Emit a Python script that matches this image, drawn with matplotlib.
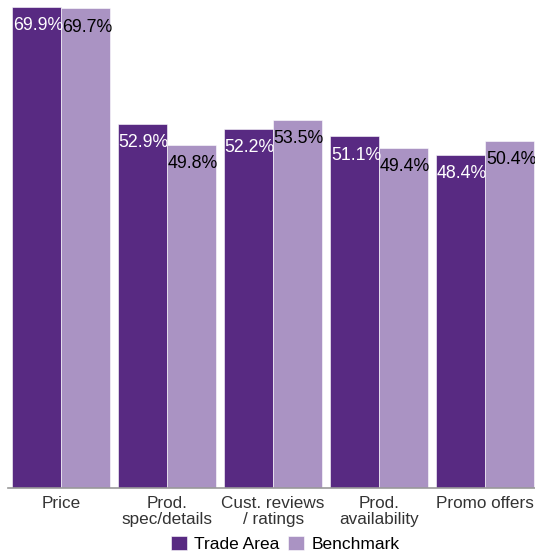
import numpy as np
import matplotlib
matplotlib.use("Agg")
import matplotlib.pyplot as plt

categories = ["Price", "Prod.\nspec/details", "Cust. reviews\n/ ratings",
              "Prod.\navailability", "Promo offers"]
trade_area = [69.9, 52.9, 52.2, 51.1, 48.4]
benchmark = [69.7, 49.8, 53.5, 49.4, 50.4]
series_names = ["Trade Area", "Benchmark"]

TA_COLOR = "#582A82"
BM_COLOR = "#AA93C3"

plt.rcParams['font.family'] = ['Liberation Sans', 'DejaVu Sans']

fig = plt.figure(figsize=(5.35, 5.55), dpi=100)
ax = fig.add_axes([8 / 535, 67 / 555, 527 / 535, 488 / 555])

x = np.arange(len(categories))
w = 0.462
b1 = ax.bar(x - w / 2, trade_area, w, color=TA_COLOR, label=series_names[0],
            edgecolor="white", linewidth=0.4)
b2 = ax.bar(x + w / 2, benchmark, w, color=BM_COLOR, label=series_names[1],
            edgecolor="white", linewidth=0.4)

ax.set_xlim(-0.5, 4.47)
ax.set_ylim(0, 70.9)

# value labels inside the top of each bar, left aligned
for bars, vals, col in [(b1, trade_area, "white"), (b2, benchmark, "black")]:
    for rect, v in zip(bars, vals):
        ax.annotate(f"{v:.1f}%", (rect.get_x(), v), xytext=(0.5, -13.5),
                    textcoords="offset points", ha="left", va="center",
                    color=col, fontsize=12.8)

ax.set_xticks(x)
ax.set_xticklabels(categories, fontsize=12.3, color="#333333", linespacing=1.08)
ax.tick_params(axis="x", length=0, pad=5.5)
ax.set_yticks([])
for s in ["top", "left", "right"]:
    ax.spines[s].set_visible(False)
ax.spines["bottom"].set_color("#999999")
ax.spines["bottom"].set_linewidth(1.2)

fig.legend(loc="lower center", bbox_to_anchor=(285 / 535, 0.002), ncol=2,
           frameon=False, fontsize=12.5, handlelength=0.92, handleheight=0.92,
           handletextpad=0.45, columnspacing=0.45, borderpad=0.1,
           borderaxespad=0)

fig.savefig("out.png", dpi=100)
